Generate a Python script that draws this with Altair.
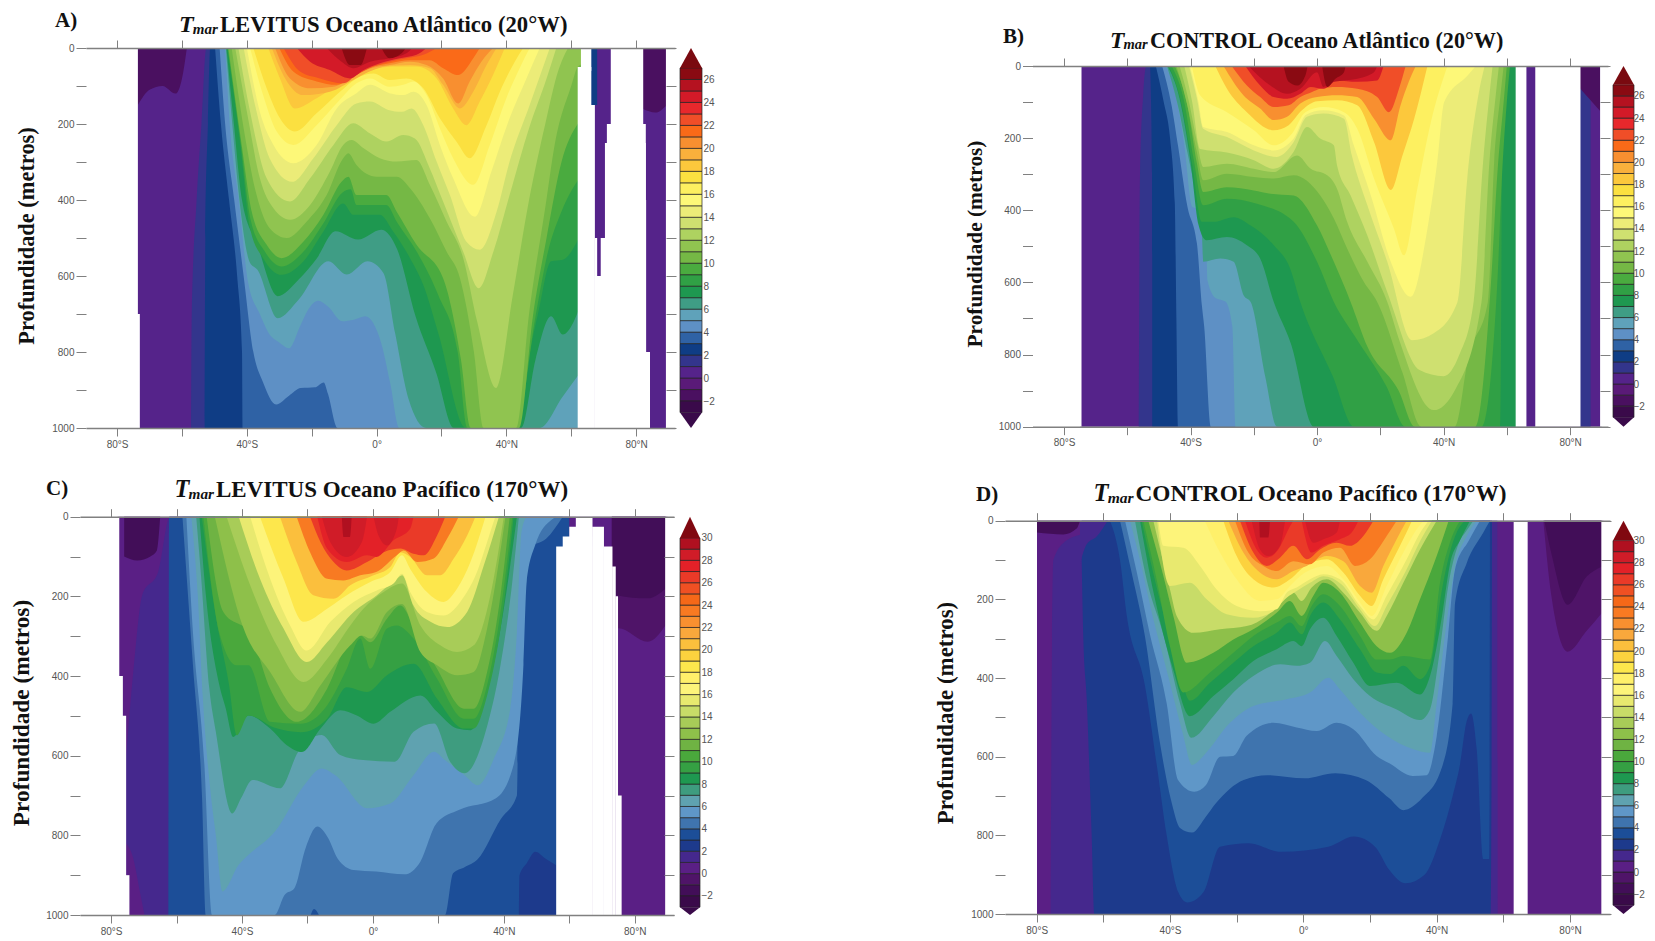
import altair as alt
import pandas as pd

# ---- colour tables (lower bound of each 1-degree class) ----
ATL = {-3:"#3a0a4a",-2:"#4a1060",-1:"#5a1a78",0:"#55238a",1:"#33358c",2:"#0f3d85",3:"#2f62a5",4:"#5e90c5",5:"#5fa2ba",
       6:"#3f9d85",7:"#1e9850",8:"#30a045",9:"#4aab3f",10:"#75b845",11:"#90c450",12:"#aed260",13:"#cfe070",14:"#ecec78",
       15:"#fdf878",16:"#fdf060",17:"#fbe040",18:"#fcc83c",19:"#f9b03c",20:"#f88f30",21:"#fa6a18",22:"#f04e28",23:"#e8282c",
       24:"#d31a28",25:"#b51220",26:"#8a0a12",27:"#7a0a10"}
PAC = {-3:"#3a0a4a",-2:"#420e58",-1:"#4f1468",0:"#5a1f85",1:"#45288d",2:"#1d3a8c",3:"#1c4e98",4:"#3f74ae",5:"#5f97c8",
       6:"#5fa2b0",7:"#3e9c7f",8:"#1e9850",9:"#35a043",10:"#4aa83c",11:"#6fb343",12:"#8ec04a",13:"#a8cc58",14:"#c8dc68",
       15:"#e8e96f",16:"#fdf47a",17:"#fff06a",18:"#fde74c",19:"#fcd23e",20:"#fbbf3d",21:"#f9a83c",22:"#f89030",23:"#f87a22",
       24:"#f56818",25:"#ef5023",26:"#ea3a28",27:"#e32128",28:"#d01c28",29:"#b01020",30:"#800810"}

# ---- isotherm depths: flat lat,depth pairs ----
A_BASE=[-74,1000,90,1000]
A_T1=[-57.2,1000,-57,700,-55.5,400,-54,200,-52.5,0,-40,0]
A_T2=[-53,1000,-52.8,500,-52,200,-51.3,0,-40,0]
A_T3=[-49.8,0,-48,200,-45.5,400,-43,600,-41.5,800,-41.3,1000,64,1000]
A_T4=[-48.4,0,-46.7,200,-43.9,400,-41,600,-38,800,-35,880,-31,938,-27,915,-23.4,895,-19,893,-16.3,880,-15,910,-12,1000,64,1000]
A_T5=[-46.7,0,-45.3,200,-42.5,400,-39.6,618,-36,700,-33.3,750,-30,775,-27,790,-23.5,730,-21.2,690,-18,665,-15,680,-10.6,719,-7,715,-3.5,706,1.4,776,4.2,882,7,1000,64,1000]
A_T6=[-46.5,0,-44.5,200,-42.3,400,-39,566,-36.8,583,-30.5,711,-24,662,-14.9,561,-9.2,596,-2.8,561,2.1,592,5.7,750,9.9,925,15.3,1000,50.3,1000,57.4,917,64,840]
A_T7=[-46.3,0,-44,200,-41.5,400,-36.8,517,-30.5,653,-24.1,610,-18.4,553,-12.7,482,-5.7,504,1.4,478,6.4,531,12,706,18.4,855,23.8,1000,44.6,1000,49,820,53.8,706,57.4,754,64,650]
A_T8=[-46,0,-42,255,-39,475,-35,553,-29.3,597,-22.6,562,-16.4,483,-10.3,409,-7.2,439,1,439,5.1,483,10.3,553,14.4,624,19,750,27.5,1000,41,1000,49.6,706,53.8,561,57.4,557,64,470]
A_T9=[-45.9,0,-41.8,255,-38.8,453,-34.5,535,-29.3,575,-22.6,536,-16.4,461,-10.5,380,-8,372,-6.2,413,0,413,3,413,6.2,457,12.3,535,19,650,25,800,28,1000,43,1000,49,706,53,530,57,430,64,325]
A_T10=[-45.7,0,-41.6,255,-38.5,431,-33.9,518,-29.3,553,-22.6,510,-16.4,439,-10.8,352,-8.7,339,-6.2,387,0,387,3,387,6.2,431,12.3,518,20.5,606,26,820,29,1000,44,1000,48.2,706,52.4,500,57,300,62,200,64,180]
A_T11=[-44.7,0,-41,211,-37,387,-32.9,475,-27.7,500,-21.6,457,-15.4,387,-10.3,290,-8.7,277,-6.2,308,0,339,6.2,339,10.3,369,16.4,448,21.6,536,25.7,606,30,800,33,1000,43,1000,47,700,52,420,55,250,60,100,62,50,64,40]
A_T12=[-43.6,0,-40,168,-36,343,-31.8,422,-26.7,452,-20.5,413,-14.4,325,-10.3,255,-7.7,242,-4,264,1,290,6.2,299,12.3,295,16.4,360,21.6,457,26.7,553,31,720,36.8,895,42,650,47,400,52,200,56,60,59,0]
A_T13=[-42.6,0,-39,168,-33.9,343,-26.7,404,-20.5,343,-13.3,255,-7.2,198,-2,225,3,246,8.2,229,11.8,238,16.4,317,20.5,404,26.7,536,31.5,632,36,536,41,387,47,211,52.4,80,55.4,0]
A_T14=[-41,0,-37,168,-33,290,-26,352,-19.5,290,-12.3,203,-6.2,146,-2,141,3.6,163,7.7,168,10.8,159,14.4,203,18.5,299,22.6,387,27.7,510,31.8,531,37,431,41,299,47.2,150,53.4,0]
A_T15=[-40,0,-36,168,-31.8,255,-25.7,303,-18.5,255,-12.3,159,-6.2,119,-2,97,4,119,8.2,124,11.3,115,15.4,150,19.5,255,23.6,343,30.3,444,35.4,325,41,185,46.2,80,50.3,0]
A_T16=[-39,0,-35,124,-30.8,220,-25.7,255,-18.5,203,-11.8,141,-6.2,93,-2,80,4,102,8.2,97,11.3,88,15.4,124,19.5,211,23.6,290,29.8,360,34.9,255,40,132,44.1,53,47.2,0]
A_T17=[-38,0,-33.9,106,-29.8,185,-25.2,220,-18.5,172,-11.3,115,-6.2,80,-1,67,4,84,9.2,80,14.4,106,19.5,185,24.6,246,28.7,290,33.9,203,38,115,42.6,36,45.2,0]
A_T18=[-33.4,0,-29.8,80,-25.2,159,-18.5,132,-10.3,88,-5,67,0,54,6.2,49,12.3,49,18.5,80,23.6,159,27.7,203,31.8,141,35.9,71,39.5,0]
A_T19=[-32.3,0,-28.2,80,-22.6,124,-14.4,115,-7.2,84,-1,58,4,47,10.3,45,16.4,53,20.5,97,25.7,159,29.8,115,33.9,45,37,0]
A_T20=[-31.3,0,-26.7,80,-20.5,106,-13.3,102,-7.2,75,-2,54,4,45,10.3,36,15.4,45,20.5,80,25.2,146,28.7,88,32.3,36,35.9,0]
A_T21=[-30,0,-25.7,62,-18.5,88,-12.3,97,-7.2,75,-1,49,4,40,10.3,32,16.4,32,20.5,53,25.2,71,29.8,27,31.8,0]
A_T22=[-28.7,0,-23.6,62,-17.5,80,-10.3,93,-6.2,71,-1,49,4,36,9.2,27,14.4,18,18.5,0]
A_T24=[-24.6,0,-20.5,36,-14.4,58,-8.2,80,-4,58,1,40,7.2,27,12.3,18,15.4,0]
A_T25=[-15.4,0,-10.8,36,-7.2,53,-2,36,4,27,9.2,14,11,0]
A_T26a=[-10.8,0,-8.2,45,-5,45,-3,0]
A_T26b=[1.5,0,4,27,7.7,14,9,0]
A_CAP1=[-73.6,150,-70,110,-66,100,-62,120,-60,80,-58.5,0]
A_CAP2=[82,160,86,170,89.5,150]
A_NAVY=[66,150,68,150]
A_MASK=[[-95,-73.6,0,800],[-95,-73,700,1000],[62,66.2,50,1000],[63,66.2,0,60],[66,67.3,150,1000],[67.2,68,500,1000],[67.2,69.2,600,1000],[69.1,71,500,1000],[70.4,83,250,1000],[71,83,200,1000],[72.2,82.2,0,1000],[82,83.1,400,1000],[83,84.3,800,1000],[89.2,95,0,1000]]

B_BASE=[-75,1000,90,1000]
B_T1=[-56.4,1000,-56,300,-55,80,-54,0,-40,0]
B_T2=[-52.8,0,-52.5,100,-52.2,300,-52,1000,64,1000]
B_T3=[-51,0,-48.5,100,-46.5,200,-45,380,-44.5,700,-44,1000,64,1000]
B_T4=[-49,0,-46,110,-44,220,-41,390,-38,492,-36.4,667,-35.7,723,-33.5,1000,64,1000]
B_T5=[-47.8,0,-44,110,-42,220,-39.5,390,-37,399,-35,510,-34.7,593,-32,644,-29,653,-26.8,723,-25.8,1000,64,1000]
B_T6=[-47.5,0,-44,110,-41,240,-38.5,350,-36.4,473,-36,543,-30.6,534,-26.4,543,-23.2,636,-21,654,-16.4,861,-12.7,1000,64,1000]
B_T7=[-47.3,0,-43.5,90,-40,267,-37.5,440,-35,483,-28.5,474,-22.2,497,-18,534,-13.7,654,-8.3,769,-0.9,1000,64,1000]
B_T8=[-47,0,-43.3,90,-39.6,267,-36.5,432,-32.8,432,-26.4,419,-21,442,-13.7,497,-8.5,562,-5.3,654,5,861,11.7,1000,58,1000,58.5,0]
B_T9=[-46,0,-42,100,-39,260,-36,386,-28.5,368,-19,382,-7.4,432,0,543,5.3,654,12,750,22,889,28,1000,52,1000,57,600,58.5,300,60,100,61,0]
B_T10=[-45,0,-41,110,-38,270,-36,349,-28.5,336,-20,345,-14.8,354,-7.4,359,0,442,5.3,543,10.6,654,16,780,25.8,900,31,1000,50,1000,55,600,57,300,59,100,60,0]
B_T11=[-44.5,0,-41,110,-38,240,-36,317,-28.5,299,-20,308,-13.7,312,-7.4,303,1,359,5.3,423,9.5,506,14.8,599,19,654,27,850,33,1000,43.5,1000,48,800,54,654,56,266,58,81,59,0]
B_T12=[-43.5,0,-40.5,100,-38,210,-36,280,-28.5,271,-20,285,-13.7,294,-6.3,248,-2,285,3.2,303,6.3,340,9.5,432,15.9,543,22.2,654,26,760,36.9,954,43.5,900,52,654,54.5,266,56.5,81,57.5,0]
B_T13=[-42,0,-39.5,100,-37,230,-28.5,240,-20,261,-13.7,285,-7.4,238,-3.2,169,1,201,5.3,220,6.3,275,10.6,359,15.9,470,22.2,627,32.4,843,40,860,45,800,49.5,654,52.5,266,54.5,81,55.5,0]
B_T14=[-40.5,0,-38,90,-36,174,-28.5,197,-20,234,-12.7,252,-7.4,211,-3.2,141,2,132,8.5,146,11,248,15.9,386,22.2,543,30,760,37,740,44.4,654,47.5,312,51,81,53,0]
B_T15=[-40.2,0,-37.5,100,-36,169,-28.5,183,-20,220,-13.7,234,-7.4,201,-3.5,135,2,123,8.5,137,11.6,220,17,359,23.3,543,29.6,640,34.9,451,38,266,40.2,100,47.6,26,50.2,0]
B_T16=[-39.6,0,-37,81,-28.5,128,-20,178,-13.7,220,-7.9,187,-3.7,128,2,114,8.5,128,12.7,174,18,312,24.3,451,27.5,525,31.7,340,36,155,41.2,0]
B_T18=[-32.2,0,-28.5,63,-22.2,128,-13.7,178,-9,164,-4.8,123,0,98,6.3,95,12.7,109,18,211,23.3,344,27,248,30.7,146,34.9,0]
B_T20=[-29.6,0,-23.3,81,-18,118,-13.7,150,-9.5,141,-5.3,104,0,86,6.3,81,12.7,86,18,146,23.3,206,26.4,109,29,44,31.2,0]
B_T22=[-27,0,-22.2,54,-18,86,-13.7,114,-9,109,-5.3,86,-1.6,72,1,63,6.3,58,12.7,63,19,86,22.7,128,25.9,63,28,0]
B_T24=[-22.7,0,-18,54,-13.7,86,-9.5,91,-5.3,77,-2,58,2,63,6.3,40,12.7,44,19,40,21,0]
B_T25=[-21.7,0,-14.8,54,-9.5,77,-5.3,63,0,17,2,58,5.3,44,12.7,35,18,17,19,0]
B_T26a=[-10.6,0,-9,44,-6.3,54,-3.7,26,-3,0]
B_T26b=[1.6,0,3.2,58,5.8,35,8.5,17,9,0]
B_INDIGO=[83,1000,86.5,1000]
B_CAP=[83,60,86,90,89.5,125]
B_MASK=[[-95,-74.5,0,1000],[62.8,66.2,0,1000],[69,83.3,0,1000],[89.5,95,0,1000]]

C_BASE=[-78,1000,90,1000]
C_T1=[-75.4,600,-73,370,-70.5,197,-65.6,138,-62,0,-50,0]
C_P0=[-75.4,820,-73.5,850,-71,950,-69.8,1000]
C_T3=[-62.5,1000,-62.3,0,60,0]
C_T4=[-58.2,0,-55,372,-52.2,707,-51,1000,22,1000,24.5,895,28,880,32,860,39,760,44,700,44.7,300,47.5,80,53,55,58,0]
C_PATCH1=[44.6,1000,44.8,900,47,870,49.6,841,53,860,56,875]
C_PATCH2=[-19,1000,-18,985,-16.5,1000]
C_T5=[-57,0,-55,289,-51.5,623,-49.2,1000,-30,1000,-27,950,-24,933,-20.6,833,-17,778,-13.6,808,-10.8,858,-5.9,887,1,891,9.6,898,14.5,866,19.4,770,26.4,736,37.6,707,43,623,46,372,47,163,49.6,71,54.5,8,56,0]
C_T6=[-55.5,0,-53.5,200,-52,450,-49.5,700,-48,800,-46,941,-41,874,-38,849,-30,791,-21,674,-15.7,632,-11.5,649,-1.7,732,5.3,720,12.4,649,18.7,590,22,611,28,649,32,674,37,607,42,481,44,289,45.4,38,47,0]
C_T7=[-54,0,-52.5,150,-50,430,-48,540,-43,745,-40.3,707,-36.8,661,-28.4,682,-22.8,590,-15.7,548,-10,598,-3,611,6.7,615,12.4,540,18.7,519,23.6,615,28,644,35,523,39,372,42.6,163,44.6,0]
C_T8=[-53,0,-51,200,-47,420,-45,480,-42.7,553,-38,499,-31.4,532,-26.3,574,-21.7,591,-16,532,-10,486,-4.9,499,.2,520,5.3,490,14.5,449,19.6,490,25.7,532,29.8,536,34.4,457,39,281,44,0]
C_T9=[-52.3,0,-48,250,-44,420,-41.6,549,-38,499,-30,530,-22,541,-14,507,-8,428,-1.8,440,4.3,398,12.4,369,19.6,457,27.8,532,30.8,532,34.9,449,39,281,43,0]
C_T10=[-51.8,0,-46.7,298,-41.6,373,-38,373,-31.4,515,-22.2,520,-14,474,-8,382,-3.9,306,-.8,382,4.3,281,7.3,273,12.4,306,19.6,407,27.8,507,30.8,507,34.9,423,39,239,42.6,0]
C_T11=[-50.8,0,-45.7,239,-37.5,294,-31.4,432,-23.3,515,-14,432,-8,323,-3.9,298,-.8,315,4.3,256,8.4,223,12.4,273,19.6,382,27.8,482,30.8,482,34.9,390,39,197,41.8,0]
C_T12=[-48.3,0,-39.5,281,-31.4,390,-22.2,490,-16,423,-6.9,323,-3.4,298,-.8,306,4.3,239,8.9,219,14.5,340,19.6,373,25.7,398,30.8,390,34.9,281,40.5,0]
C_T13=[-44.7,0,-37.5,172,-29.4,323,-21.2,415,-14,357,-6.9,273,-2.9,231,3.3,189,8.9,168,14.5,273,20.6,323,25.7,340,30.8,323,35.9,197,40,0]
C_T15=[-41,0,-34.5,156,-27.3,281,-20.2,365,-14,315,-5.9,239,1.2,197,7.3,156,8.9,147,12.4,223,17.6,264,22.7,277,28.8,239,33.9,122,38.5,0]
C_T16=[-37.5,0,-31.4,156,-25.3,273,-20.2,336,-13,264,-5.9,214,1.2,185,6.3,168,8.9,143,11.4,189,16.5,239,21.6,248,26.7,214,31.8,139,35.9,38,37.4,0]
C_T18=[-34.5,0,-27.3,156,-21.2,264,-14,231,-8,197,-.8,164,5.3,139,8.9,97,11.4,131,16.5,189,21.6,214,25.7,181,29.8,114,34.4,0]
C_T20=[-28.4,0,-23.3,114,-18.2,197,-12,206,-6.9,172,.2,147,5.3,126,8.4,89,11.4,101,16.5,147,20.6,147,24.7,105,28.8,47,31.3,0]
C_T23=[-23.3,0,-19.2,89,-14,156,-9,160,-3.9,147,1,139,7.3,97,9.4,85,13.5,114,18.6,105,22.7,55,26.2,0]
C_T26=[-19.2,0,-16,64,-12,114,-8,135,-1.8,114,3.3,89,8.4,80,12.4,93,15.5,97,19.6,47,22.1,0]
C_T27=[-17,0,-14,80,-8,114,-1.8,97,1,101,6.3,59,11.4,30,12.4,0]
C_T28a=[-15.6,0,-13,64,-8,101,-3.4,64,-1.8,0]
C_T28b=[.2,0,1.7,47,4.3,72,7.3,30,7.9,0]
C_T29=[-9.5,0,-9,51,-7,51,-6.5,0]
C_CAP1=[-76,100,-72,110,-68,100,-66,85,-65,0]
C_CAP2=[73,280,75,280,84,314,89.5,272]
C_CAP3=[73,130,74.5,197,84,205,89.5,180]
C_MASK=[[-95,-77.5,0,1000],[-78,-76.4,400,1000],[-77,-75.4,500,1000],[-76,-74.4,900,1000],[56,67,75,1000],[58,67,50,1000],[60,67,25,1000],[62,67.1,0,1000],[67,70.6,25,1000],[70.5,73.2,75,1000],[73.1,74.2,125,1000],[74.1,74.9,200,1000],[74.8,76,700,1000],[89.3,95,0,1000]]

D_BASE=[-80,1000,90,1000]
D_T1=[-75.8,1000,-75.4,300,-75,100,-71,50,-65,30,-59,0,58.2,0,58.3,1000]
D_T2=[-66.5,100,-66,300,-65,450,-63.5,800,-62.7,1000,56.3,1000,56.6,0]
D_CAPT=[-67,110,-65,60,-62,40,-58.7,0]
D_T3=[-58,0,-55,100,-53,240,-47.5,420,-44,620,-41,800,-37.5,945,-34.8,971,-30,945,-25,829,-16.5,820,-6.6,842,7.5,829,15.2,803,21.5,829,25.8,888,30.7,922,36.3,901,41.3,803,44.8,700,47,620,49,510,50.3,490,52,580,54,860,55.8,860,56,0]
D_T4=[-55,0,-51.7,125,-47.5,295,-43,566,-39.7,710,-36.9,782,-33.4,793,-29.2,752,-26.3,719,-17.9,659,-10.8,647,0.4,655,9.6,642,18.7,659,25.8,706,30,736,35.6,706,41.3,634,44.8,464,45.5,210,49,108,54,30,56,0]
D_T5=[-53.5,0,-50,130,-46,290,-41,464,-37.6,659,-32.7,689,-29.2,672,-25,600,-21,598,-17,547,-9,514,-2,526,4,535,10,514,15,530,22,598,25.8,617,32.8,649,37,647,40,549,43.4,295,45.5,125,49.7,50,53,0]
D_T6=[-52,0,-49,100,-45,250,-40.4,400,-36.2,540,-33.4,621,-30,598,-22,514,-15,471,-5,454,2,437,7.5,399,11,429,17,488,25,547,33,581,38,590,40,464,42.7,278,45.5,117,49,40,52,0]
D_T7=[-50.5,0,-47,150,-41.8,295,-37,464,-33.6,552,-27,497,-21,437,-15,395,-7,365,-2,369,2,361,6.5,306,10,344,15,403,20,446,28,480,35,507,38,480,41,327,43.4,170,46.5,60,49,25,51,0]
D_T8=[-49,0,-45,180,-39,380,-34,497,-27,446,-21,403,-15,357,-8,327,-3,306,-.5,319,2,276,6,247,10,293,15,361,20,420,28,412,35,442,38,395,41.6,242,44,110,47,50,50,0]
D_T9=[-48.5,0,-44,170,-38,350,-34,458,-28,412,-21,361,-15,319,-8,285,-4,259,-.5,289,2,242,6,208,11,251,17,327,22,386,26,390,30,369,35,403,38,369,41.6,175,44,80,46,30,48.5,0]
D_T10=[-48,0,-44,150,-40,320,-36,437,-28,386,-21,336,-15,293,-8,259,-4,242,-.5,268,2.5,217,6,187,11,217,17,293,22,353,26,353,30,344,38,353,41,158,44,55,47,0]
D_T12=[-46.5,0,-42,140,-39,242,-35,361,-27,336,-21,302,-15,276,-8,234,-4,204,-.5,242,3,191,6,158,11,183,17,259,22,319,26,336,31,285,35,200,40,90,43.6,0]
D_T14=[-45,0,-40,175,-38,242,-33,285,-25,276,-17,268,-11,242,-6,200,-3,183,-.5,204,2.5,170,7,149,12,183,17,234,22,280,25,242,30,158,35,73,40,0]
D_T15=[-43.9,0,-40,166,-34,158,-29,200,-23,238,-15,247,-9,230,-5,196,-2,179,2,158,6,141,11.5,162,17,225,21.5,268,25,217,30.5,132,35,52,38.6,0]
D_T16=[-43.5,0,-42,64,-36,69,-31,115,-26,175,-20,217,-13,230,-8,225,-5,183,-2,170,2,149,6,136,11,149,17,217,21,251,25,191,31,98,35,31,37.6,0]
D_T17=[-29.6,0,-25,81,-20,149,-13,204,-8,200,-4,166,.5,132,7,115,12,149,17,208,20.5,242,25,166,30,81,34,22,36,0]
D_T19=[-24,0,-20,90,-15,149,-9,170,-4,149,.5,115,7,98,12,132,17,191,20.5,217,24,149,29,64,32.6,0]
D_T21=[-22.5,0,-18,81,-13,132,-8,149,-3,128,1,115,7,90,12,103,17,166,20.5,183,24,115,28,47,31,0]
D_T23=[-20.5,0,-16.5,81,-12,115,-8,128,-3,103,2,111,6,81,11,69,15.5,115,20,98,25,39,28,0]
D_T26=[-19,0,-15,81,-11,115,-7,94,-3,64,1,98,5,73,10,56,14,64,18,39,21,0]
D_T27a=[-17.5,0,-14,73,-11,94,-7.5,73,-4,14,-3,0]
D_T27b=[-.5,0,2.5,81,6,64,11,47,14.5,30,16.5,0]
D_T28a=[-15.5,0,-13,73,-10.5,90,-7,64,-5.5,0]
D_T28b=[.5,0,3,56,6,47,10,30,11,0]
D_T29=[-13.2,0,-13,43,-10.5,43,-10,0]
D_CAP1=[-79.9,30,-72,35,-68,20,-67,0]
D_CAP2=[72,0,74.4,190,79.3,333,85,280,89.5,235]
D_CAP3=[72.3,0,74.4,83,79.3,214,85,142,89.5,117]
D_MASK=[[-95,-79.9,0,1000],[63.1,67.3,0,1000],[89.4,95,0,1000]]

# (name, pairs, colour class, 1 when the fill lies below the curve)
A_BANDS=[("base",A_BASE,0,0),("t1",A_T1,1,1),("t2",A_T2,2,1),("cap",A_CAP1,-2,0),("t3",A_T3,3,0),("t4",A_T4,4,0),("t5",A_T5,5,0),("t6",A_T6,6,0),("t7",A_T7,7,0),("t8",A_T8,8,0),("t9",A_T9,9,0),("t10",A_T10,10,0),("t11",A_T11,11,0),("t12",A_T12,12,0),("t13",A_T13,13,0),("t14",A_T14,14,0),("t15",A_T15,15,0),("t16",A_T16,16,0),("t17",A_T17,17,0),("t18",A_T18,18,0),("t19",A_T19,19,0),("t20",A_T20,20,0),("t21",A_T21,21,0),("t22",A_T22,22,0),("t24",A_T24,24,0),("t25",A_T25,25,0),("t26a",A_T26a,26,0),("t26b",A_T26b,26,0),("cap2",A_CAP2,-2,0),("navy",A_NAVY,2,0)]
B_BANDS=[("base",B_BASE,0,0),("t1",B_T1,1,1),("t2",B_T2,2,0),("t3",B_T3,3,0),("t4",B_T4,4,0),("t5",B_T5,5,0),("t6",B_T6,6,0),("t7",B_T7,7,0),("t8",B_T8,8,0),("t9",B_T9,9,0),("t10",B_T10,10,0),("t11",B_T11,11,0),("t12",B_T12,12,0),("t13",B_T13,13,0),("t14",B_T14,14,0),("t15",B_T15,15,0),("t16",B_T16,16,0),("t18",B_T18,18,0),("t20",B_T20,20,0),("t22",B_T22,22,0),("t24",B_T24,24,0),("t25",B_T25,25,0),("t26a",B_T26a,26,0),("t26b",B_T26b,26,0),("ind",B_INDIGO,1,0),("cap",B_CAP,-2,0)]
C_BANDS=[("base",C_BASE,0,0),("t1",C_T1,1,1),("p0",C_P0,0,1),("t3",C_T3,3,1),("t4",C_T4,4,0),("patch1",C_PATCH1,2,1),("t5",C_T5,5,0),("patch2",C_PATCH2,3,1),("t6",C_T6,6,0),("t7",C_T7,7,0),("t8",C_T8,8,0),("t9",C_T9,9,0),("t10",C_T10,10,0),("t11",C_T11,11,0),("t12",C_T12,12,0),("t13",C_T13,13,0),("t15",C_T15,15,0),("t16",C_T16,16,0),("t18",C_T18,18,0),("t20",C_T20,20,0),("t23",C_T23,23,0),("t26",C_T26,26,0),("t27",C_T27,27,0),("t28a",C_T28a,28,0),("t28b",C_T28b,28,0),("t29",C_T29,29,0),("cap",C_CAP1,-2,0),("cap2",C_CAP2,-1,0),("cap3",C_CAP3,-2,0)]
D_BANDS=[("base",D_BASE,0,0),("t1",D_T1,1,1),("t2",D_T2,2,0),("capt",D_CAPT,1,0),("t3",D_T3,3,0),("t4",D_T4,4,0),("t5",D_T5,5,0),("t6",D_T6,6,0),("t7",D_T7,7,0),("t8",D_T8,8,0),("t9",D_T9,9,0),("t10",D_T10,10,0),("t12",D_T12,12,0),("t14",D_T14,14,0),("t15",D_T15,15,0),("t16",D_T16,16,0),("t17",D_T17,17,0),("t19",D_T19,19,0),("t21",D_T21,21,0),("t23",D_T23,23,0),("t26",D_T26,26,0),("t27a",D_T27a,27,0),("t27b",D_T27b,27,0),("t28a",D_T28a,28,0),("t28b",D_T28b,28,0),("t29",D_T29,29,0),("cap",D_CAP1,-2,0),("cap2",D_CAP2,-1,0),("cap3",D_CAP3,-2,0)]

X_TICKS=[-80,-60,-40,-20,0,20,40,60,80]
Y_TICKS=[0,100,200,300,400,500,600,700,800,900,1000]
FULL_W,FULL_H=1639,932
SANS="Liberation Sans"; SERIF="Liberation Serif"
LAT_EXPR="datum.value==0?'0°':abs(datum.value)%40==0?abs(datum.value)+'°'+(datum.value<0?'S':'N'):''"
DEP_EXPR="datum.value%200==0?format(datum.value,'d'):''"

def panel(bands,masks,pal,lat_dom,xr,yr,xend,cb_x,cb_y,cb_dom,cb_top,cb_low,cb_labels,
          letter,lxy,name,txy,tsize,ytx,yty,ysize,lab_pad):
    ox=lambda v:v-8
    sx=alt.Scale(domain=lat_dom,range=[ox(xr[0]),ox(xr[1])],nice=False,zero=False)
    sy=alt.Scale(domain=[0,1000],range=[ox(yr[0]),ox(yr[1])],nice=False,zero=False)
    rows=[]
    for b,(nm,pts,t,deep) in enumerate(bands):
        for i in range(0,len(pts),2):
            d=pts[i+1]
            rows.append(dict(band=f"{b:02d}{nm}",lat=pts[i],y=d if deep else 0,y2=1000 if deep else d,c=pal[t]))
    X=alt.X("lat:Q",scale=sx,axis=None); Y=alt.Y("y:Q",scale=sy,axis=None,stack=None)
    layers=[alt.Chart(pd.DataFrame(rows)).mark_area(interpolate="monotone",orient="vertical",strokeWidth=0).encode(
        x=X,y=Y,y2="y2:Q",color=alt.Color("c:N",scale=None),detail="band:N")]
    md=pd.DataFrame(masks,columns=["a","b","t","u"])
    layers.append(alt.Chart(md).mark_rect(color="white",strokeWidth=0).encode(
        x=alt.X("a:Q",scale=sx,axis=None),x2="b:Q",y=alt.Y("t:Q",scale=sy,axis=None),y2="u:Q"))
    one=pd.DataFrame({"lat":[0],"y":[0]})
    ac=dict(domainColor="#808080",tickColor="#808080",labelColor="#555555",labelFont=SANS,labelFontSize=10,grid=False,title=None,zindex=1,labelOverlap=False,labelFlush=False)
    bottom=alt.Axis(orient="bottom",values=X_TICKS,labelExpr=LAT_EXPR,offset=-(FULL_H-ox(yr[1])),tickSize=8,domainWidth=1.5,labelPadding=3,**ac)
    left=alt.Axis(orient="left",values=Y_TICKS,labelExpr=DEP_EXPR,offset=-ox(xr[0]),tickSize=10,domain=False,labelPadding=2,**ac)
    layers.append(alt.Chart(one).mark_point(opacity=0).encode(x=alt.X("lat:Q",scale=sx,axis=bottom),y=alt.Y("y:Q",scale=sy,axis=left)))
    top=alt.Axis(orient="top",values=X_TICKS,labels=False,offset=-ox(yr[0]),tickSize=8,domainWidth=1.5,**{k:v for k,v in ac.items() if not k.startswith("label")})
    right=alt.Axis(orient="right",values=Y_TICKS,labels=False,offset=-(FULL_W-ox(xend)),tickSize=10,domain=False,**{k:v for k,v in ac.items() if not k.startswith("label")})
    layers.append(alt.Chart(one).mark_point(opacity=0).encode(x=alt.X("lat:Q",scale=sx,axis=top),y=alt.Y("y:Q",scale=sy,axis=right)))
    # colour bar
    cx=alt.Scale(domain=[0,1],range=[ox(cb_x[0]),ox(cb_x[1])],nice=False,zero=False)
    cy=alt.Scale(domain=cb_dom,range=[ox(cb_y[1]),ox(cb_y[0])],nice=False,zero=False)
    boxes=pd.DataFrame([dict(a=0,b=1,t=t,u=t+1,c=pal[t]) for t in range(-2,cb_top)]+[dict(a=0,b=1,t=cb_low,u=-2,c=pal[-3])])
    layers.append(alt.Chart(boxes).mark_rect(stroke="#222222",strokeWidth=0.7).encode(
        x=alt.X("a:Q",scale=cx,axis=None),x2="b:Q",y=alt.Y("t:Q",scale=cy,axis=None),y2="u:Q",color=alt.Color("c:N",scale=None)))
    tri=[dict(k="up",x=0,y=cb_top,y2=cb_top,c=pal[cb_top]),dict(k="up",x=.5,y=cb_dom[1],y2=cb_top,c=pal[cb_top]),dict(k="up",x=1,y=cb_top,y2=cb_top,c=pal[cb_top]),
         dict(k="dn",x=0,y=cb_low,y2=cb_low,c=pal[-3]),dict(k="dn",x=.5,y=cb_dom[0],y2=cb_low,c=pal[-3]),dict(k="dn",x=1,y=cb_low,y2=cb_low,c=pal[-3])]
    lab=alt.Axis(orient="right",values=cb_labels,offset=-(FULL_W-ox(cb_x[1]))-1,domain=False,ticks=False,labelColor="#555555",labelFont=SANS,labelFontSize=10,grid=False,title=None,labelPadding=lab_pad,labelOverlap=False,format="d",zindex=1)
    layers.append(alt.Chart(pd.DataFrame(tri)).mark_area(orient="vertical",strokeWidth=0).encode(
        x=alt.X("x:Q",scale=cx,axis=None),y=alt.Y("y:Q",scale=cy,axis=lab,stack=None),y2="y2:Q",color=alt.Color("c:N",scale=None),detail="k:N"))
    # texts
    def txt(s,x,y,size,style="normal",align="left",angle=0):
        return alt.Chart(pd.DataFrame({"s":[s]})).mark_text(font=SERIF,fontWeight="bold",fontStyle=style,fontSize=size,align=align,baseline="middle",angle=angle,color="#111111").encode(
            text="s:N",x=alt.value(ox(x)),y=alt.value(ox(y)))
    layers.append(txt(letter,lxy[0],lxy[1],21))
    layers.append(txt("T",txy[0],txy[1],tsize+1,"italic"))
    layers.append(txt("mar",txy[0]+tsize*0.6,txy[1]+4,tsize-8,"italic"))
    layers.append(txt(name,txy[0]+tsize*1.78,txy[1],tsize-0.3))
    layers.append(txt("Profundidade (metros)",ytx,yty,ysize,angle=270,align="center"))
    return layers

LAB_A=[-2,0,2,4,6,8,10,12,14,16,18,20,22,24,26]
LAB_P=LAB_A+[28,30]
layers=[]
layers+=panel(A_BANDS,A_MASK,ATL,[-89.6,92],(86,675),(48,428),666,(680,702),(48,428),[-4.35,28.74],26+1,-3,LAB_A,
              "A)",(55,21),"LEVITUS Oceano Atlântico (20°W)",(179,25),23,27,236,22.4,2)
layers+=panel(B_BANDS,B_MASK,ATL,[-90,92],(1032.5,1608),(66,426.7),1600,(1613,1634),(66,426.7),[-3.85,28.7],26+1,-3,LAB_A,
              "B)",(1003,37),"CONTROL Oceano Atlântico (20°W)",(1110,41),22.5,976,244,21.3,0)
layers+=panel(C_BANDS,C_MASK,PAC,[-89.5,92],(80,674),(516.7,915),664,(680,700),(516.7,915),[-3.7,31.9],30,-3,LAB_P,
              "C)",(46,489),"LEVITUS Oceano Pacífico (170°W)",(174.5,490),23.3,21.5,713,23.3,2)
layers+=panel(D_BANDS,D_MASK,PAC,[-89.5,92],(1005,1610),(520.7,914),1601,(1613,1634),(520.7,914),[-3.8,31.8],30,-3,LAB_P,
              "D)",(976,495),"CONTROL Oceano Pacífico (170°W)",(1093.5,494),23.6,946,713,22.9,0)

chart=alt.layer(*layers).resolve_scale(x="independent",y="independent",color="independent").resolve_axis(x="independent",y="independent").properties(
    width=FULL_W,height=FULL_H,padding=0,autosize=alt.AutoSizeParams(type="none"),background="white").configure_view(stroke=None)
chart.save("out.html",embed_options={"renderer":"svg","actions":False})
